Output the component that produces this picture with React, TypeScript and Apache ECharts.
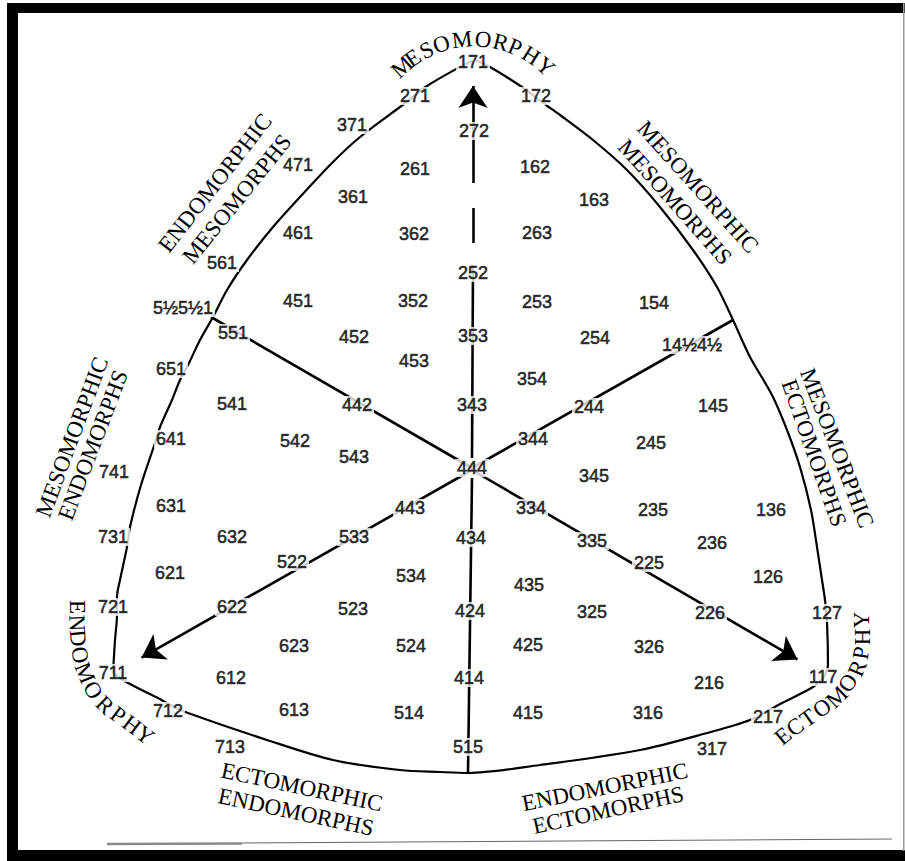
import React, { useEffect, useRef } from "react";
import * as echarts from "echarts";

const W = 905;
const H = 861;

// somatotype codes and where they sit on the chart
const codes = [
  "171", "271", "172", "371", "272", "471", "261", "162", "361", "163",
  "461", "362", "263", "561", "252", "5½5½1", "451", "352", "253", "154",
  "551", "452", "353", "254", "14½4½", "453", "651", "354", "541", "442",
  "343", "244", "145", "641", "542", "344", "245", "543", "444", "741",
  "345", "631", "443", "334", "235", "136", "731", "632", "533", "434",
  "335", "236", "522", "225", "621", "534", "126", "721", "622", "523",
  "424", "435", "325", "226", "127", "623", "524", "425", "326", "711",
  "612", "414", "216", "117", "712", "613", "514", "415", "316", "217",
  "713", "515", "317",
];
const codeX = [
  473, 415, 536, 352, 474, 298, 415, 535, 353, 594,
  298, 414, 537, 222, 473, 183, 298, 413, 537, 654,
  233, 354, 473, 595, 692, 414, 171, 532, 232, 357,
  472, 589, 713, 171, 295, 533, 651, 354, 472, 114,
  594, 171, 410, 531, 653, 771, 113, 232, 354, 471,
  592, 712, 292, 649, 170, 411, 768, 113, 232, 353,
  470, 529, 592, 710, 827, 294, 411, 528, 649, 113,
  231, 469, 709, 823, 168, 294, 409, 528, 648, 768,
  230, 468, 712,
];
const codeY = [
  62, 96, 96, 125, 131, 165, 169, 167, 197, 200,
  233, 234, 233, 263, 273, 308, 301, 301, 302, 303,
  333, 337, 336, 338, 345, 361, 369, 379, 404, 405,
  405, 407, 406, 439, 441, 439, 443, 457, 468, 472,
  476, 506, 508, 508, 510, 510, 537, 537, 537, 538,
  541, 543, 562, 563, 573, 576, 577, 607, 607, 609,
  611, 585, 612, 613, 613, 646, 646, 645, 647, 673,
  678, 678, 683, 677, 711, 710, 713, 713, 713, 717,
  747, 747, 749,
];

// the three curved sides of the chart
const leftArcX = [472, 458, 427, 404, 360, 333, 300, 273, 247, 227, 213, 200, 189, 180, 172, 160, 155, 141, 130, 127, 120, 117, 117, 115, 113];
const leftArcY = [61, 68, 86, 104, 137, 162, 197, 227, 260, 290, 317, 340, 363, 380, 400, 427, 443, 485, 527, 547, 580, 597, 615, 640, 673];
const rightArcX = [475, 490, 522, 546, 560, 593, 627, 660, 693, 717, 733, 750, 772, 787, 800, 811, 817, 822, 825, 827, 828, 824];
const rightArcY = [60, 67, 87, 105, 115, 140, 170, 207, 250, 287, 320, 357, 395, 430, 467, 510, 547, 580, 600, 622, 665, 677];
const bottomArcX = [113, 128, 158, 170, 188, 267, 333, 400, 440, 468, 540, 640, 707, 750, 782, 813, 824];
const bottomArcY = [673, 683, 698, 705, 713, 740, 760, 770, 772, 773, 765, 750, 733, 720, 703, 687, 677];

// straight spokes from 444 (end point is the arrow tip when arrowed)
const spokeX1 = [472, 473, 473, 472, 472, 472, 472, 472];
const spokeY1 = [458, 243, 183, 478, 468, 468, 470, 470];
const spokeX2 = [473, 473, 473, 468, 211, 733, 132, 807];
const spokeY2 = [265, 208, 75, 772, 317, 320, 663, 665];
const spokeArrow = [false, false, true, false, false, false, true, true];

// straight region titles
const regionText = [
  "ENDOMORPHIC", "MESOMORPHS",
  "MESOMORPHIC", "MESOMORPHS",
  "MESOMORPHIC", "ENDOMORPHS",
  "MESOMORPHIC", "ECTOMORPHS",
  "ECTOMORPHIC", "ENDOMORPHS",
  "ENDOMORPHIC", "ECTOMORPHS",
];
const regionX = [215, 237, 698, 675, 72, 93, 837, 814, 302, 296, 605, 608];
const regionY = [183, 199, 187, 202, 437, 445, 448, 453, 787, 812, 787, 810];
const regionRot = [52, 51, -48, -48.5, 69.5, 69, -69, -70.5, -12, -12, 11.5, 12.5];

// curved titles at the three corners
const mesoLetters = ["M", "E", "S", "O", "M", "O", "R", "P", "H", "Y"];
const mesoAngles = [-42.5, -34.9, -26.4, -17.8, -6.4, 4.9, 14.6, 22.6, 32.3, 42.1];
const mesoCenter = [474, 145.6];
const mesoRadius = 106.6;

const endoLetters = ["E", "N", "D", "O", "M", "O", "R", "P", "H", "Y"];
const endoX = [77, 77, 78, 80, 85, 93, 105, 118, 132, 145];
const endoY = [607, 623, 638, 655, 673, 690, 705, 715, 725, 735];
const endoDir = [90, 88, 85, 79, 68, 58, 44, 36.5, 36.5, 37.6];

const ectoLetters = ["E", "C", "T", "O", "M", "O", "R", "P", "H", "Y"];
const ectoX = [783, 795, 808, 822, 837, 848, 857, 861, 862, 861];
const ectoY = [736, 727, 718, 708, 697, 683, 668, 653, 637, 620];
const ectoDir = [-40, -37, -35, -36, -44, -55, -67, -81, -90, -90];

const SERIF = '"Liberation Serif", "Times New Roman", serif';
const SANS = '"Liberation Sans", Arial, sans-serif';
const ARROW_LEN = 22;
const TITLE_SIZE = 23;

function letterText(ch: string, x: number, y: number, rotDeg: number) {
  return {
    type: "text",
    x,
    y,
    rotation: (rotDeg * Math.PI) / 180,
    silent: true,
    style: {
      text: ch,
      fill: "#000",
      fontSize: TITLE_SIZE,
      fontFamily: SERIF,
      align: "center",
      verticalAlign: "middle",
    },
  };
}

export default function App() {
  const ref = useRef<HTMLDivElement>(null);

  useEffect(() => {
    if (!ref.current) return;
    const chart = echarts.init(ref.current, undefined, { renderer: "svg" });

    const arcs = [
      [leftArcX, leftArcY],
      [rightArcX, rightArcY],
      [bottomArcX, bottomArcY],
    ];

    const plainSpokes: any[] = [];
    const arrowSpokes: any[] = [];
    spokeX1.forEach((x1, i) => {
      const y1 = spokeY1[i];
      let x2 = spokeX2[i];
      let y2 = spokeY2[i];
      if (spokeArrow[i]) {
        const dx = x2 - x1;
        const dy = y2 - y1;
        const len = Math.hypot(dx, dy);
        x2 = x2 - (dx / len) * (ARROW_LEN / 2);
        y2 = y2 - (dy / len) * (ARROW_LEN / 2);
        arrowSpokes.push({ coords: [[x1, y1], [x2, y2]] });
      } else {
        plainSpokes.push({ coords: [[x1, y1], [x2, y2]] });
      }
    });

    const graphic: any[] = [];
    // frame
    graphic.push({ type: "rect", shape: { x: 7, y: 3, width: 898, height: 10 }, style: { fill: "#000" }, silent: true });
    graphic.push({ type: "rect", shape: { x: 7, y: 3, width: 11, height: 858 }, style: { fill: "#000" }, silent: true });
    graphic.push({ type: "rect", shape: { x: 7, y: 850, width: 898, height: 11 }, style: { fill: "#000" }, silent: true });
    graphic.push({ type: "rect", shape: { x: 903, y: 3, width: 1.5, height: 848 }, style: { fill: "#999" }, silent: true });
    // page rule at the bottom
    graphic.push({ type: "line", shape: { x1: 107, y1: 844, x2: 242, y2: 843.5 }, style: { stroke: "#8a8a8a", lineWidth: 2.5 }, silent: true });
    graphic.push({ type: "line", shape: { x1: 242, y1: 843, x2: 892, y2: 839 }, style: { stroke: "#666", lineWidth: 1 }, silent: true });

    regionText.forEach((t, i) => {
      graphic.push({
        type: "text",
        x: regionX[i],
        y: regionY[i],
        rotation: (regionRot[i] * Math.PI) / 180,
        silent: true,
        style: {
          text: t,
          fill: "#000",
          fontSize: TITLE_SIZE,
          fontFamily: SERIF,
          align: "center",
          verticalAlign: "middle",
        },
      });
    });

    mesoLetters.forEach((ch, i) => {
      const a = (mesoAngles[i] * Math.PI) / 180;
      const x = mesoCenter[0] + mesoRadius * Math.sin(a);
      const y = mesoCenter[1] - mesoRadius * Math.cos(a);
      graphic.push(letterText(ch, x, y, -mesoAngles[i]));
    });
    endoLetters.forEach((ch, i) => {
      graphic.push(letterText(ch, endoX[i], endoY[i], -endoDir[i]));
    });
    ectoLetters.forEach((ch, i) => {
      graphic.push(letterText(ch, ectoX[i], ectoY[i], -ectoDir[i]));
    });

    const option: any = {
      animation: false,
      backgroundColor: "#fff",
      grid: { left: 0, right: 0, top: 0, bottom: 0, containLabel: false },
      xAxis: { type: "value", min: 0, max: W, show: false },
      yAxis: { type: "value", min: 0, max: H, inverse: true, show: false },
      series: [
        ...arcs.map(([xs, ys]) => ({
          type: "line",
          data: xs.map((x, i) => [x, ys[i]]),
          smooth: 0.3,
          symbol: "none",
          silent: true,
          clip: false,
          lineStyle: { color: "#000", width: 2.2 },
          z: 2,
        })),
        {
          type: "lines",
          coordinateSystem: "cartesian2d",
          data: plainSpokes,
          symbol: ["none", "none"],
          silent: true,
          lineStyle: { color: "#000", width: 2.6, opacity: 1 },
          z: 3,
        },
        {
          type: "lines",
          coordinateSystem: "cartesian2d",
          data: arrowSpokes,
          symbol: ["none", "arrow"],
          symbolSize: [12, ARROW_LEN],
          silent: true,
          lineStyle: { color: "#000", width: 2.6, opacity: 1 },
          z: 3,
        },
        {
          type: "scatter",
          data: codes.map((c, i) => [codeX[i], codeY[i], c]),
          symbolSize: 1,
          silent: true,
          clip: false,
          itemStyle: { color: "rgba(0,0,0,0)" },
          label: {
            show: true,
            position: "inside",
            formatter: (p: any) => p.value[2],
            color: "#000",
            fontFamily: SANS,
            fontSize: 18,
            lineHeight: 16,
            textBorderColor: "#000",
            textBorderWidth: 0.6,
            backgroundColor: "#fff",
            padding: [1, 2],
          },
          z: 10,
        },
      ],
      graphic,
    };

    chart.setOption(option);
    return () => chart.dispose();
  }, []);

  return (
    <div
      ref={ref}
      style={{ position: "absolute", left: 0, top: 0, width: W, height: H, background: "#fff" }}
    />
  );
}
